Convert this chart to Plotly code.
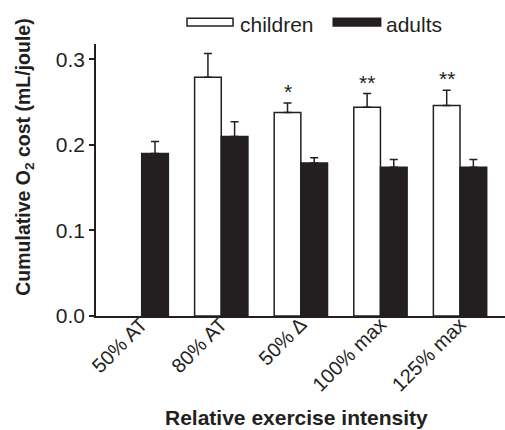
import plotly.graph_objects as go

categories = ["50% AT", "80% AT", "50% \u0394", "100% max", "125% max"]
children = [None, 0.279, 0.238, 0.244, 0.246]
children_err = [0, 0.028, 0.011, 0.016, 0.018]
adults = [0.190, 0.210, 0.179, 0.174, 0.174]
adults_err = [0.014, 0.017, 0.006, 0.009, 0.009]
stars = ["", "", "*", "**", "**"]
y_ticks = [0.0, 0.1, 0.2, 0.3]

INK = "#231f20"
FONT = "Liberation Sans, Arial, sans-serif"

fig = go.Figure()
fig.add_trace(go.Bar(
    x=categories, y=children, name="children",
    marker=dict(color="white", line=dict(color=INK, width=1.5)),
    error_y=dict(type="data", symmetric=False, array=children_err,
                 arrayminus=[0] * len(children_err), color=INK, thickness=1.5, width=4),
))
fig.add_trace(go.Bar(
    x=categories, y=adults, name="adults",
    marker=dict(color=INK, line=dict(color=INK, width=1.5)),
    error_y=dict(type="data", symmetric=False, array=adults_err,
                 arrayminus=[0] * len(adults_err), color=INK, thickness=1.5, width=4),
))

# significance stars above children bars
for c, v, e, s in zip(categories, children, children_err, stars):
    if s and v is not None:
        fig.add_annotation(x=c, y=v + e, text=s, showarrow=False, xshift=-13,
                           yanchor="bottom", yshift=-2,
                           font=dict(size=21, color=INK, family=FONT))

# custom legend (wide rectangles)
fig.add_shape(type="rect", xref="paper", yref="paper", x0=0.2225, x1=0.335,
              y0=1.066, y1=1.095, fillcolor="white", line=dict(color=INK, width=1.5))
fig.add_annotation(xref="paper", yref="paper", x=0.348, y=1.07, text="children",
                   showarrow=False, xanchor="left", yanchor="middle",
                   font=dict(size=21, color=INK, family=FONT))
fig.add_shape(type="rect", xref="paper", yref="paper", x0=0.580, x1=0.696,
              y0=1.066, y1=1.095, fillcolor=INK, line=dict(color=INK, width=1.5))
fig.add_annotation(xref="paper", yref="paper", x=0.703, y=1.07, text="adults",
                   showarrow=False, xanchor="left", yanchor="middle",
                   font=dict(size=21, color=INK, family=FONT))

# axis titles
fig.add_annotation(xref="paper", yref="paper", x=0.491, y=-0.424,
                   text="<b>Relative exercise intensity</b>", showarrow=False,
                   xanchor="center", yanchor="bottom",
                   font=dict(size=21, color=INK, family=FONT))
fig.add_annotation(xref="paper", yref="paper", x=-0.174, y=0.585,
                   text="<b>Cumulative O<sub>2</sub> cost (mL/joule)</b>", showarrow=False,
                   textangle=-90, xanchor="center", yanchor="middle",
                   font=dict(size=19.5, color=INK, family=FONT))

fig.update_layout(
    width=505, height=430,
    margin=dict(l=96, r=0, t=44, b=114),
    paper_bgcolor="white", plot_bgcolor="white",
    barmode="group", bargap=0.33, bargroupgap=0,
    showlegend=False,
    font=dict(family=FONT, size=20, color=INK),
    xaxis=dict(type="category", range=[-0.574, 4.565], showline=True,
               linecolor=INK, linewidth=1.5, ticks="", tickangle=-45,
               showgrid=False, zeroline=False, ticklabelstandoff=-13,
               tickfont=dict(size=20, color=INK, family=FONT)),
    yaxis=dict(range=[0, 0.318], showline=True, linecolor=INK, linewidth=1.5,
               ticks="outside", ticklen=5, tickwidth=1.5, tickcolor=INK,
               tickvals=y_ticks, ticktext=[f"{v:.1f}" for v in y_ticks],
               showgrid=False, zeroline=False,
               tickfont=dict(size=21, color=INK, family=FONT)),
)

fig.write_html("out.html")
